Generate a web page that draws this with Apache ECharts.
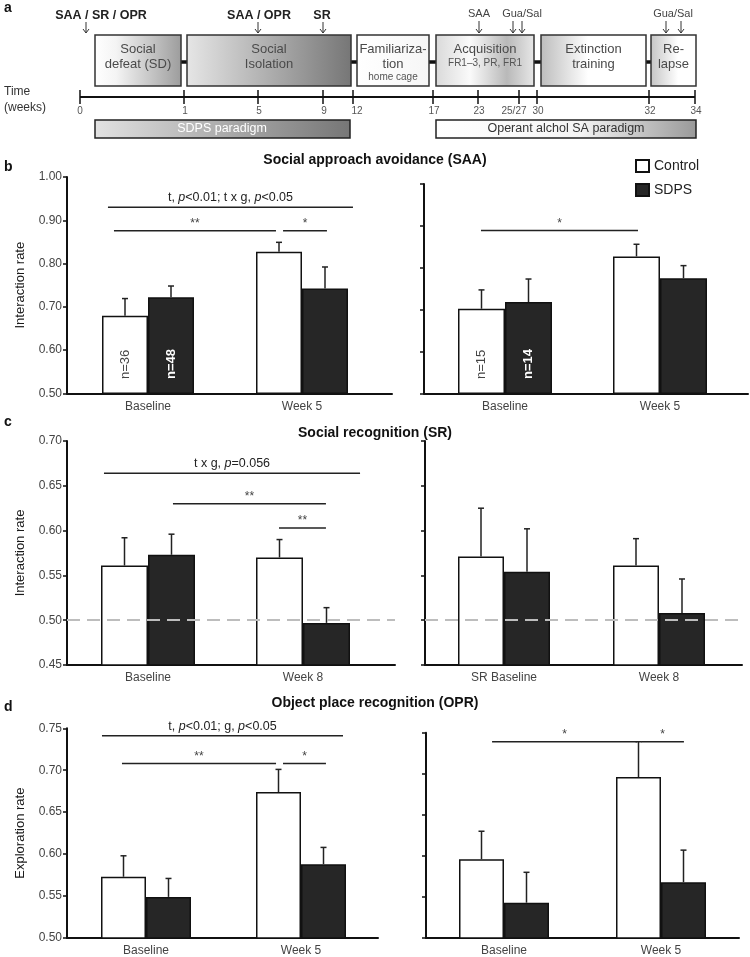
<!DOCTYPE html>
<html><head><meta charset="utf-8">
<script src="https://cdn.jsdelivr.net/npm/echarts@6/dist/echarts.min.js"></script>
<style>html,body{margin:0;padding:0;background:#fff}#c{width:750px;height:957px}</style>
</head><body><div id="c"></div>
<script>
const FONT = '"Liberation Sans", Arial, Helvetica, sans-serif';

// ---------------- DATA ----------------
const seriesNames = ['Control', 'SDPS'];

// (b) Social approach avoidance
const saaCats = ['Baseline', 'Week 5'];
const saaL_control = [0.679, 0.827];
const saaL_controlErr = [0.040, 0.022];
const saaL_sdps = [0.722, 0.742];
const saaL_sdpsErr = [0.026, 0.050];
const saaL_nControl = ['n=36', ''];
const saaL_nSdps = ['n=48', ''];
const saaR_control = [0.702, 0.827];
const saaR_controlErr = [0.045, 0.029];
const saaR_sdps = [0.718, 0.775];
const saaR_sdpsErr = [0.055, 0.030];
const saaR_nControl = ['n=15', ''];
const saaR_nSdps = ['n=14', ''];

// (c) Social recognition
const srCatsL = ['Baseline', 'Week 8'];
const srCatsR = ['SR Baseline', 'Week 8'];
const srL_control = [0.561, 0.570];
const srL_controlErr = [0.031, 0.020];
const srL_sdps = [0.573, 0.497];
const srL_sdpsErr = [0.023, 0.017];
const srR_control = [0.571, 0.561];
const srR_controlErr = [0.054, 0.030];
const srR_sdps = [0.554, 0.508];
const srR_sdpsErr = [0.048, 0.038];
const srChance = 0.50;

// (d) Object place recognition
const oprCats = ['Baseline', 'Week 5'];
const oprL_control = [0.573, 0.674];
const oprL_controlErr = [0.025, 0.027];
const oprL_sdps = [0.549, 0.588];
const oprL_sdpsErr = [0.022, 0.020];
const oprR_control = [0.596, 0.696];
const oprR_controlErr = [0.034, 0.043];
const oprR_sdps = [0.543, 0.568];
const oprR_sdpsErr = [0.037, 0.039];

// significance brackets: [fromCategoryPos, toCategoryPos, yValue, labelIndex]
const saaL_sigLabels = ['t, {i|p}<0.01; t x g, {i|p}<0.05', '**', '*'];
const saaL_sig = [[-0.26, 1.331, 0.930, 0], [-0.221, 0.831, 0.876, 1], [0.877, 1.162, 0.876, 2]];
const saaR_sigLabels = ['*'];
const saaR_sig = [[-0.155, 0.858, 0.889, 0]];
const srL_sigLabels = ['t x g, {i|p}=0.056', '**', '**'];
const srL_sig = [[-0.284, 1.368, 0.664, 0], [0.161, 1.148, 0.630, 1], [0.845, 1.148, 0.603, 2]];
const oprL_sigLabels = ['t, {i|p}<0.01; g, {i|p}<0.05', '**', '*'];
const oprL_sig = [[-0.284, 1.271, 0.741, 0], [-0.155, 0.839, 0.708, 1], [0.884, 1.161, 0.708, 2]];
const oprR_sigLabels = ['*', '*'];
const oprR_sig = [[-0.076, 0.847, 0.739, 0], [0.873, 1.146, 0.739, 1]];

// (a) timeline
const timeTickLabels = ['0', '1', '5', '9', '12', '17', '23', '25/27', '30', '32', '34'];

// ---------------- LAYOUT ----------------
const LAY = {
  bL: {left: 67, top: 177, width: 325, height: 216.3, c0: 148, c1: 302, bw: 46},
  bR: {left: 424, top: 184, width: 324, height: 209.3, c0: 505, c1: 660, bw: 47},
  cL: {left: 67, top: 441, width: 328, height: 224, c0: 148, c1: 303, bw: 47},
  cR: {left: 425, top: 441, width: 317, height: 224, c0: 504, c1: 659, bw: 46},
  dL: {left: 67, top: 728.3, width: 311, height: 210, c0: 146, c1: 301, bw: 45},
  dR: {left: 426, top: 732.7, width: 313, height: 205.6, c0: 504, c1: 661, bw: 45}
};
const timeTickX = [80, 184, 258, 323, 353, 433, 478, 519, 537, 649, 695];
const timeLabelX = [80, 185, 259, 324, 357, 434, 479, 514, 538, 650, 696];

const grids = [], xAxes = [], yAxes = [], series = [];

function addPanel(L, cats, ctrl, ctrlErr, sdps, sdpsErr, yc, sig, sigLabels, nC, nS, refLine, showYLabels, yName) {
  const gi = grids.length;
  grids.push({left: L.left, top: L.top, width: L.width, height: L.height});
  const unit = L.c1 - L.c0;
  xAxes.push({
    gridIndex: gi, type: 'value',
    min: -(L.c0 - L.left) / unit, max: (L.left + L.width - L.c0) / unit,
    axisLine: {show: true, onZero: false, lineStyle: {color: '#111', width: 2}},
    axisTick: {show: false}, splitLine: {show: false},
    axisLabel: {customValues: [0, 1], formatter: v => cats[Math.round(v)] || '', fontSize: 12, color: '#444', margin: 7, fontFamily: FONT}
  });
  yAxes.push({
    gridIndex: gi, type: 'value', min: yc.min, max: yc.max, interval: yc.interval,
    name: yName || '', nameLocation: 'middle', nameGap: 40,
    nameTextStyle: {fontSize: 13, color: '#1a1a1a', fontFamily: FONT},
    axisLine: {show: true, onZero: false, lineStyle: {color: '#111', width: 2}},
    axisTick: {show: true, length: 4, lineStyle: {color: '#111', width: 1.5}},
    splitLine: {show: false},
    axisLabel: {show: showYLabels, formatter: v => v.toFixed(2), fontSize: 12, color: '#444', margin: 5, fontFamily: FONT}
  });
  const mk = (vals, ns, white) => vals.map((v, i) => {
    const d = {value: [i, v]};
    if (ns && ns[i]) {
      d.label = {show: true, formatter: ns[i], position: 'insideBottom', rotate: 90, align: 'left', verticalAlign: 'middle',
        distance: 15, fontSize: 13, fontFamily: FONT, color: white ? '#fff' : '#444', fontWeight: white ? 'bold' : 'normal'};
    }
    return d;
  });
  series.push({
    type: 'bar', name: seriesNames[0], xAxisIndex: gi, yAxisIndex: gi, barWidth: L.bw, barGap: '0%',
    itemStyle: {color: '#ffffff', borderColor: '#111', borderWidth: 1.5}, silent: true,
    data: mk(ctrl, nC, false)
  });
  const sd = {
    type: 'bar', name: seriesNames[1], xAxisIndex: gi, yAxisIndex: gi, barWidth: L.bw, barGap: '0%',
    itemStyle: {color: '#262626', borderColor: '#111', borderWidth: 1.5}, silent: true,
    data: mk(sdps, nS, true)
  };
  if (refLine != null) {
    sd.markLine = {silent: true, symbol: 'none', label: {show: false}, z: 10,
      lineStyle: {color: '#bdbdbd', type: [13, 7], width: 2}, data: [{yAxis: refLine}]};
  }
  series.push(sd);
  // error bars (upper whiskers)
  const errData = [];
  ctrl.forEach((v, i) => errData.push([i, v, ctrlErr[i], -1]));
  sdps.forEach((v, i) => errData.push([i, v, sdpsErr[i], 1]));
  series.push({
    type: 'custom', xAxisIndex: gi, yAxisIndex: gi, silent: true, z: 5,
    encode: {x: 0, y: 1},
    renderItem: (params, api) => {
      const x = api.value(0), y = api.value(1), e = api.value(2), s = api.value(3);
      const p0 = api.coord([x, y]), p1 = api.coord([x, y + e]);
      const cx = p0[0] + s * L.bw / 2;
      return {type: 'group', children: [
        {type: 'line', shape: {x1: cx, y1: p0[1], x2: cx, y2: p1[1]}, style: {stroke: '#222', lineWidth: 1.5}},
        {type: 'line', shape: {x1: cx - 3, y1: p1[1], x2: cx + 3, y2: p1[1]}, style: {stroke: '#222', lineWidth: 1.5}}
      ]};
    },
    data: errData
  });
  if (sig && sig.length) {
    series.push({
      type: 'custom', xAxisIndex: gi, yAxisIndex: gi, silent: true, z: 6,
      encode: {x: [0, 1], y: 2},
      renderItem: (params, api) => {
        const a = api.coord([api.value(0), api.value(2)]);
        const b = api.coord([api.value(1), api.value(2)]);
        const lab = sigLabels[api.value(3)];
        const isStar = /^\*+$/.test(lab);
        return {type: 'group', children: [
          {type: 'line', shape: {x1: a[0], y1: a[1], x2: b[0], y2: b[1]}, style: {stroke: '#222', lineWidth: 1.5}},
          {type: 'text', style: {text: lab, x: (a[0] + b[0]) / 2, y: a[1] - (isStar ? 1 : 3), align: 'center', verticalAlign: 'bottom',
            fill: isStar ? '#444' : '#222', font: (isStar ? '12px ' : '12.5px ') + FONT,
            rich: {i: {fontStyle: 'italic', fontSize: 12.5, fontFamily: FONT, fill: '#222'}}}}
        ]};
      },
      data: sig
    });
  }
}

addPanel(LAY.bL, saaCats, saaL_control, saaL_controlErr, saaL_sdps, saaL_sdpsErr, {min: 0.5, max: 1.0, interval: 0.1},
  saaL_sig, saaL_sigLabels, saaL_nControl, saaL_nSdps, null, true, 'Interaction rate');
addPanel(LAY.bR, saaCats, saaR_control, saaR_controlErr, saaR_sdps, saaR_sdpsErr, {min: 0.5, max: 1.0, interval: 0.1},
  saaR_sig, saaR_sigLabels, saaR_nControl, saaR_nSdps, null, false, '');
addPanel(LAY.cL, srCatsL, srL_control, srL_controlErr, srL_sdps, srL_sdpsErr, {min: 0.45, max: 0.70, interval: 0.05},
  srL_sig, srL_sigLabels, null, null, srChance, true, 'Interaction rate');
addPanel(LAY.cR, srCatsR, srR_control, srR_controlErr, srR_sdps, srR_sdpsErr, {min: 0.45, max: 0.70, interval: 0.05},
  [], [], null, null, srChance, false, '');
addPanel(LAY.dL, oprCats, oprL_control, oprL_controlErr, oprL_sdps, oprL_sdpsErr, {min: 0.50, max: 0.75, interval: 0.05},
  oprL_sig, oprL_sigLabels, null, null, null, true, 'Exploration rate');
addPanel(LAY.dR, oprCats, oprR_control, oprR_controlErr, oprR_sdps, oprR_sdpsErr, {min: 0.50, max: 0.75, interval: 0.05},
  oprR_sig, oprR_sigLabels, null, null, null, false, '');

// ---------------- PANEL a (diagram) + titles ----------------
const G = [];
const txt = (t, x, y, o = {}) => G.push({type: 'text', silent: true, style: Object.assign({
  text: t, x, y, align: 'center', verticalAlign: 'middle', fill: '#222', font: '12px ' + FONT}, o)});
const line = (x1, y1, x2, y2, c = '#111', w = 1.5) => G.push({type: 'line', silent: true, shape: {x1, y1, x2, y2}, style: {stroke: c, lineWidth: w}});
const arrow = (x, y1, y2) => {
  line(x, y1, x, y2, '#333', 1);
  G.push({type: 'polyline', silent: true, shape: {points: [[x - 3, y2 - 4], [x, y2], [x + 3, y2 - 4]]}, style: {stroke: '#333', lineWidth: 1, fill: null}});
};
const grad = stops => new echarts.graphic.LinearGradient(0, 0, 1, 0, stops.map(s => ({offset: s[0], color: s[1]})));

// letters
txt('a', 4, 8, {align: 'left', font: 'bold 14px ' + FONT, fill: '#111'});
txt('b', 4, 167, {align: 'left', font: 'bold 14px ' + FONT, fill: '#111'});
txt('c', 4, 422, {align: 'left', font: 'bold 14px ' + FONT, fill: '#111'});
txt('d', 4, 707, {align: 'left', font: 'bold 14px ' + FONT, fill: '#111'});

// top test labels and arrows
txt('SAA / SR / OPR', 101, 16, {font: 'bold 12.5px ' + FONT});
txt('SAA / OPR', 259, 16, {font: 'bold 12.5px ' + FONT});
txt('SR', 322, 16, {font: 'bold 12.5px ' + FONT});
arrow(86, 22, 33); arrow(258, 22, 33); arrow(323, 22, 33);
txt('SAA', 479, 14, {font: '11px ' + FONT, fill: '#444'});
txt('Gua/Sal', 522, 14, {font: '11px ' + FONT, fill: '#444'});
txt('Gua/Sal', 673, 14, {font: '11px ' + FONT, fill: '#444'});
arrow(479, 21, 33); arrow(513, 21, 33); arrow(522, 21, 33); arrow(666, 21, 33); arrow(681, 21, 33);

// phase boxes
const boxes = [
  {x: 95, w: 86, lines: ['Social', 'defeat (SD)'], g: [[0, '#ffffff'], [0.25, '#f4f4f4'], [1, '#9c9c9c']]},
  {x: 187, w: 164, lines: ['Social', 'Isolation'], g: [[0, '#e6e6e6'], [1, '#767676']]},
  {x: 357, w: 72, lines: ['Familiariza-', 'tion'], sub: 'home cage', subY: 77, g: [[0, '#ffffff'], [1, '#f6f6f6']]},
  {x: 436, w: 98, lines: ['Acquisition'], sub: 'FR1\u20133, PR, FR1', subY: 63, g: [[0, '#d9d9d9'], [0.35, '#fafafa'], [0.72, '#b9b9b9'], [1, '#e8e8e8']]},
  {x: 541, w: 105, lines: ['Extinction', 'training'], g: [[0, '#bcbcbc'], [0.45, '#ffffff'], [1, '#ffffff']]},
  {x: 651, w: 45, lines: ['Re-', 'lapse'], g: [[0, '#c4c4c4'], [0.6, '#ffffff'], [1, '#ffffff']]}
];
[[181, 187], [351, 357], [429, 436], [534, 541], [646, 651]].forEach(c => line(c[0], 62, c[1], 62, '#111', 3.5));
boxes.forEach(b => {
  G.push({type: 'rect', silent: true, shape: {x: b.x, y: 35, width: b.w, height: 51}, style: {fill: grad(b.g), stroke: '#333', lineWidth: 1.5}});
  b.lines.forEach((t, i) => txt(t, b.x + b.w / 2, 49 + i * 15, {font: '13px ' + FONT, fill: '#4a4a4a'}));
  if (b.sub) txt(b.sub, b.x + b.w / 2, b.subY, {font: '10px ' + FONT, fill: '#555'});
});

// time axis
txt('Time', 4, 92, {align: 'left', font: '12px ' + FONT, fill: '#333'});
txt('(weeks)', 4, 108, {align: 'left', font: '12px ' + FONT, fill: '#333'});
line(80, 97, 695, 97, '#111', 2);
timeTickX.forEach((x, i) => {
  line(x, 90, x, 104, '#111', 1.5);
  txt(timeTickLabels[i], timeLabelX[i], 111, {font: '10px ' + FONT, fill: '#555'});
});

// paradigm bars
G.push({type: 'rect', silent: true, shape: {x: 95, y: 120, width: 255, height: 18}, style: {fill: grad([[0, '#e2e2e2'], [1, '#767676']]), stroke: '#222', lineWidth: 1.5}});
txt('SDPS paradigm', 222, 129, {font: '12.5px ' + FONT, fill: '#ffffff'});
G.push({type: 'rect', silent: true, shape: {x: 436, y: 120, width: 260, height: 18}, style: {fill: grad([[0, '#ffffff'], [0.55, '#f4f4f4'], [1, '#999999']]), stroke: '#222', lineWidth: 1.5}});
txt('Operant alchol SA paradigm', 566, 129, {font: '12.5px ' + FONT, fill: '#333'});

// panel titles
txt('Social approach avoidance (SAA)', 375, 160, {font: 'bold 14px ' + FONT, fill: '#111'});
txt('Social recognition (SR)', 375, 433, {font: 'bold 14px ' + FONT, fill: '#111'});
txt('Object place recognition (OPR)', 375, 703, {font: 'bold 14px ' + FONT, fill: '#111'});

const chart = echarts.init(document.getElementById('c'), null, {renderer: 'canvas'});
chart.setOption({
  animation: false,
  backgroundColor: '#ffffff',
  textStyle: {fontFamily: FONT},
  legend: {
    data: seriesNames, orient: 'vertical', left: 630, top: 154, itemWidth: 13, itemHeight: 12, itemGap: 10,
    selectedMode: false, textStyle: {fontSize: 14, color: '#222', fontFamily: FONT}, icon: 'rect'
  },
  grid: grids, xAxis: xAxes, yAxis: yAxes, series: series,
  graphic: G
});
</script>
</body></html>
